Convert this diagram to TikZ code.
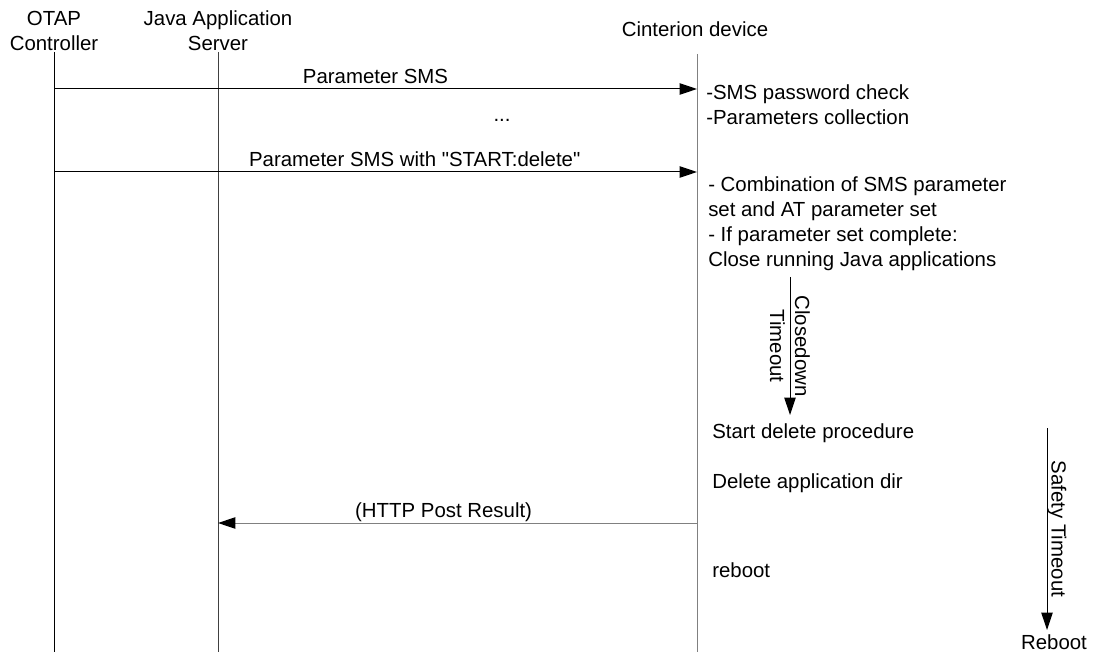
\documentclass[tikz,border=0pt]{standalone}
\usepackage{fontspec}
\setmainfont{Liberation Sans}
\usetikzlibrary{arrows.meta,positioning}
\tikzset{every picture/.style={
  >={Triangle[length=13pt,width=8.5pt]}   % Filled arrow heads.
  }
}
\newcommand\straightquote{\XeTeXglyph\XeTeXcharglyph34\relax}

\begin{document}
\begin{tikzpicture}[x=0.75pt,y=-0.75pt,
        every node/.style={font=\fontsize{15.3pt}{18.75pt}\selectfont},
        actor/.style={align=center, anchor=south, inner sep=0pt},
        lifeline/.style={line width=0.75pt},
        message/.style={line width=0.75pt, ->},
        reply/.style={line width=0.75pt, draw=gray,
          -{Triangle[length=13pt,width=8.5pt,color=black]}},
        msglabel/.style={above, inner sep=4pt, text depth=0pt},
        note/.style={align=left, anchor=base west, inner sep=0pt},
        timer/.style={line width=0.75pt, ->},
      ]
      \useasboundingbox (0,0) rectangle (1099,652);
      % actors and lifelines
      \node[actor] (otap) at (54,51) {OTAP\\Controller};
      \node[actor] (server) at (218,51) {Java Application\\Server};
      \node[actor] (device) at (695,37) {Cinterion device};
      \coordinate (otap-top) at (54,52);
      \coordinate (otap-end) at (54,652);
      \coordinate (server-top) at (218,52);
      \coordinate (server-end) at (218,652);
      \coordinate (device-top) at (697,54);
      \coordinate (device-end) at (697,652);
      \draw[lifeline] (otap-top) -- (otap-end);
      \draw[lifeline, draw=black!75] (server-top) -- (server-end);
      \draw[lifeline, draw=gray] (device-top) -- (device-end);
      % messages
      \coordinate (m1) at (0,89);
      \coordinate (m2) at (0,172);
      \coordinate (m3) at (0,523);
      \draw[message] (otap-top |- m1) -- node[msglabel] (sms) {Parameter SMS}
        (device-top |- m1);
      \node[anchor=base, inner sep=0pt] (dots) at (502,122) {...};
      \draw[message] (otap-top |- m2) -- node[msglabel, pos=0.561] (smsdel)
        {Parameter SMS with \straightquote START:delete\straightquote}
        (device-top |- m2);
      \draw[reply] (device-top |- m3) -- node[msglabel, pos=0.529] (http)
        {(HTTP Post Result)} (server-top |- m3);
      % device notes (base = last line)
      \node[note] (check) at (706,125) {-SMS password check\\-Parameters collection};
      \node[note] (combine) at (708,267) {- Combination of SMS parameter\\
        set and AT parameter set\\- If parameter set complete:\\
        Close running Java applications};
      \node[note] (start) at (712,438) {Start delete procedure};
      \node[note] (delete) at (712,488) {Delete application dir};
      \node[note] (restart) at (712,577) {reboot};
      % timers
      \coordinate (close-start) at (790,277);
      \coordinate (close-end) at (790,415);
      \draw[timer] (close-start) -- node[rotate=-90, align=center, inner sep=0pt]
        (closedown) {Closedown\\Timeout} (close-end);
      \coordinate (safe-start) at (1047,428);
      \coordinate (safe-end) at (1047,630);
      \draw[timer] (safe-start) -- node[rotate=-90, anchor=south, inner sep=0pt]
        (safety) {Safety Timeout} (safe-end);
      \node[anchor=base, inner sep=0pt] (reboot) at (1054,649) {Reboot};
\end{tikzpicture}
\end{document}
